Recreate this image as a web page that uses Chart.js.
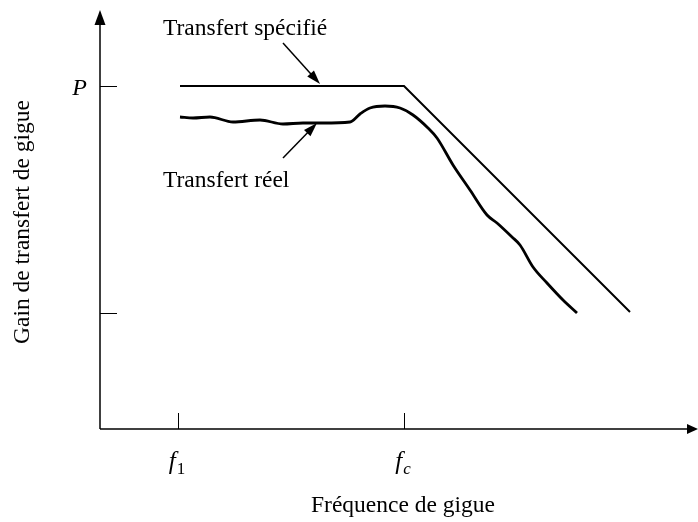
<!DOCTYPE html>
<html>
<head>
<meta charset="utf-8">
<script src="https://cdn.jsdelivr.net/npm/chart.js@4"></script>
<style>
  html, body { margin: 0; padding: 0; background: #fff; }
  #wrap { width: 698px; height: 522px; }
</style>
</head>
<body>
<div id="wrap"><canvas id="gigue"></canvas></div>
<script>
// Axes en unités arbitraires (origine = intersection des axes)
const xMax = 598;
const yMax = 419;

// Repères
const xTickValues = [78, 304];
const xTickLabels = [['f', '1'], ['f', 'c']];
const yTickValues = [343, 116];
const yTickLabels = ['P', ''];

// Transfert spécifié (gabarit)
const specX = [80, 304, 530];
const specY = [343, 343, 117];

// Transfert réel (mesuré)
const realX = [80, 93, 110, 133, 160, 183, 203, 223, 250, 260, 270, 285, 300, 313,
               328, 337, 353, 370, 387, 397, 412, 420, 433, 447, 463, 477];
const realY = [312, 311, 312, 307, 309, 305, 306, 306, 307, 315, 321, 323, 321, 314,
               301, 291, 264, 239, 214, 206, 192, 184, 162, 146, 129, 116];

const seriesNames = ['Transfert spécifié', 'Transfert réel'];
const xTitle = 'Fréquence de gigue';
const yTitle = 'Gain de transfert de gigue';

const FONT = '"Liberation Serif", "DejaVu Serif", serif';

function toPoints(xs, ys) {
    return xs.map((x, i) => ({ x: x, y: ys[i] }));
}

function arrow(ctx, x1, y1, x2, y2, len, wid) {
    const a = Math.atan2(y2 - y1, x2 - x1);
    ctx.beginPath();
    ctx.moveTo(x1, y1);
    ctx.lineTo(x2 - Math.cos(a) * len * 0.8, y2 - Math.sin(a) * len * 0.8);
    ctx.stroke();
    ctx.beginPath();
    ctx.moveTo(x2, y2);
    ctx.lineTo(x2 - Math.cos(a) * len + Math.sin(a) * wid / 2, y2 - Math.sin(a) * len - Math.cos(a) * wid / 2);
    ctx.lineTo(x2 - Math.cos(a) * len - Math.sin(a) * wid / 2, y2 - Math.sin(a) * len + Math.cos(a) * wid / 2);
    ctx.closePath();
    ctx.fill();
}

// Légendes fléchées (unités des axes)
const callouts = [
    { text: seriesNames[0], tx: 63, ty: 394, from: [183, 386], to: [220, 345] },
    { text: seriesNames[1], tx: 63, ty: 242, from: [183, 271], to: [217, 306] }
];

const schemaPlugin = {
    id: 'schema',
    afterDraw(chart) {
        const ctx = chart.ctx;
        const xs = chart.scales.x, ys = chart.scales.y;
        const x0 = xs.getPixelForValue(0), y0 = ys.getPixelForValue(0);
        const xe = xs.getPixelForValue(xMax), ye = ys.getPixelForValue(yMax);
        ctx.save();
        ctx.strokeStyle = '#000';
        ctx.fillStyle = '#000';
        ctx.lineWidth = 1.5;
        // axes avec flèches
        arrow(ctx, x0, y0, xe, y0, 11, 10);
        arrow(ctx, x0, y0, x0, ye, 15, 11);

        // repères
        ctx.lineWidth = 1;
        ctx.textBaseline = 'alphabetic';
        xTickValues.forEach((v, i) => {
            const px = Math.round(xs.getPixelForValue(v)) + 0.5;
            ctx.beginPath();
            ctx.moveTo(px, y0);
            ctx.lineTo(px, y0 - 16);
            ctx.stroke();
            const [main, sub] = xTickLabels[i];
            const subFont = (sub === '1' ? '' : 'italic ') + '17px ' + FONT;
            ctx.font = 'italic 25px ' + FONT;
            const w1 = ctx.measureText(main).width;
            ctx.font = subFont;
            const w2 = ctx.measureText(sub).width;
            const left = px - (w1 + w2) / 2 - 2;
            ctx.font = 'italic 25px ' + FONT;
            ctx.textAlign = 'left';
            ctx.fillText(main, left, y0 + 40);
            ctx.font = subFont;
            ctx.fillText(sub, left + w1 + 1, y0 + 45);
        });
        yTickValues.forEach((v, i) => {
            const py = Math.round(ys.getPixelForValue(v)) + 0.5;
            ctx.beginPath();
            ctx.moveTo(x0, py);
            ctx.lineTo(x0 + 17, py);
            ctx.stroke();
            if (yTickLabels[i]) {
                ctx.font = 'italic 24px ' + FONT;
                ctx.textAlign = 'right';
                ctx.fillText(yTickLabels[i], x0 - 13, py + 8);
            }
        });

        // titres des axes
        ctx.font = '23.5px ' + FONT;
        ctx.textAlign = 'center';
        ctx.fillText(xTitle, 403, 512);
        ctx.save();
        ctx.translate(29, 222);
        ctx.rotate(-Math.PI / 2);
        ctx.fillText(yTitle, 0, 0);
        ctx.restore();

        // légendes fléchées
        ctx.lineWidth = 1.5;
        callouts.forEach(c => {
            ctx.font = '23.5px ' + FONT;
            ctx.textAlign = 'left';
            ctx.fillText(c.text, xs.getPixelForValue(c.tx), ys.getPixelForValue(c.ty));
            arrow(ctx, xs.getPixelForValue(c.from[0]), ys.getPixelForValue(c.from[1]),
                  xs.getPixelForValue(c.to[0]), ys.getPixelForValue(c.to[1]), 14, 9);
        });
        ctx.restore();
    }
};

new Chart(document.getElementById('gigue'), {
    type: 'line',
    data: {
        datasets: [
            {
                label: seriesNames[0],
                data: toPoints(specX, specY),
                borderColor: '#000',
                borderWidth: 2,
                pointRadius: 0,
                tension: 0,
                fill: false
            },
            {
                label: seriesNames[1],
                data: toPoints(realX, realY),
                borderColor: '#000',
                borderWidth: 2.8,
                pointRadius: 0,
                tension: 0.4,
                cubicInterpolationMode: 'monotone',
                fill: false
            }
        ]
    },
    options: {
        responsive: true,
        maintainAspectRatio: false,
        animation: false,
        layout: { padding: { left: 100, right: 0, top: 10, bottom: 93 } },
        scales: {
            x: { type: 'linear', min: 0, max: xMax, display: false },
            y: { type: 'linear', min: 0, max: yMax, display: false }
        },
        plugins: {
            legend: { display: false },
            tooltip: { enabled: false }
        }
    },
    plugins: [schemaPlugin]
});
</script>
</body>
</html>
